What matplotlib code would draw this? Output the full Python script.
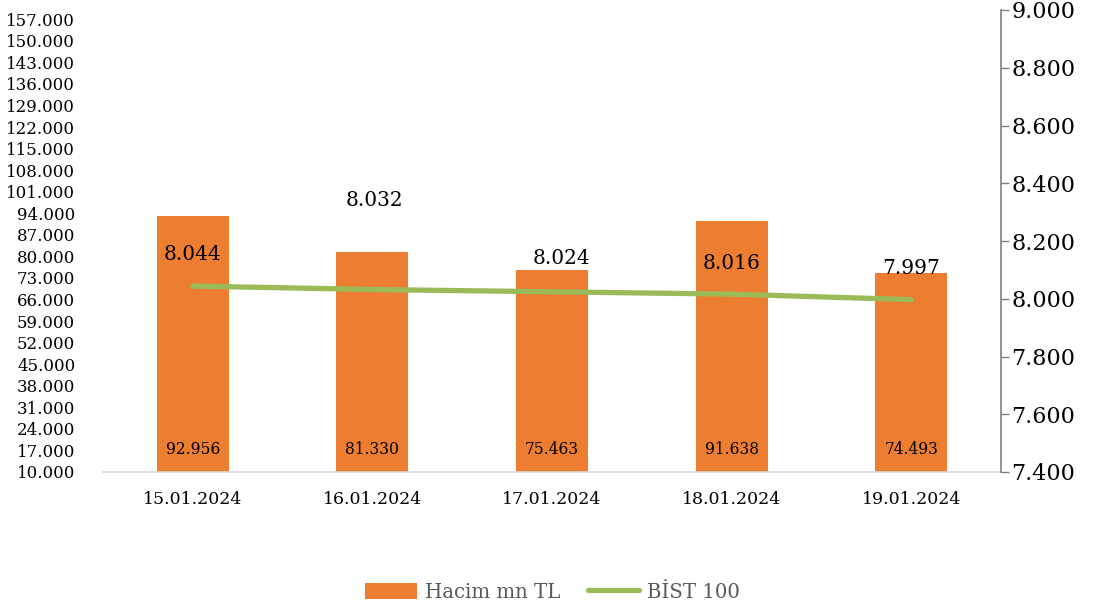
import matplotlib
matplotlib.use("Agg")
import matplotlib.pyplot as plt
import matplotlib.ticker as mticker
import numpy as np

dates = ["15.01.2024", "16.01.2024", "17.01.2024", "18.01.2024", "19.01.2024"]
hacim = [92956, 81330, 75463, 91638, 74493]
bist = [8044, 8032, 8024, 8016, 7997]

left_ticks = np.arange(10000, 157001, 7000)
right_ticks = np.arange(7400, 9001, 200)


def tr(v, dec=0):
    # Turkish style thousands separator
    return f"{v:,.{dec}f}".replace(",", ".")


plt.rcParams['font.family'] = ['DejaVu Serif']

fig = plt.figure(figsize=(10.94, 6.11), dpi=100)
ax = fig.add_axes([103 / 1094, 139 / 611, 898 / 1094, 462 / 611])
ax2 = ax.twinx()

orange = "#ED7D31"
green = "#9BBB59"

x = np.arange(len(dates))
bars = ax.bar(x, hacim, width=0.4, color=orange, label="Hacim mn TL", zorder=2)
ax.set_xlim(-0.5, 4.5)
ax.set_ylim(10000, 160000)
ax.set_yticks(left_ticks)
ax.yaxis.set_major_formatter(mticker.FuncFormatter(lambda v, p: tr(v)))
ax.tick_params(axis='y', length=0, labelsize=12, pad=20)
ax.set_xticks(x)
ax.set_xticklabels(dates)
ax.tick_params(axis='x', length=0, labelsize=12.5, pad=14)
for s in ["top", "left", "right"]:
    ax.spines[s].set_visible(False)
ax.spines["bottom"].set_color("#D9D9D9")
ax.spines["bottom"].set_linewidth(1.2)

for i, v in enumerate(hacim):
    ax.annotate(tr(v), (i, 10000), xytext=(0, 22), textcoords="offset pixels",
                ha="center", va="center", fontsize=11.2, color="black")

ax2.plot(x, bist, color=green, lw=3.8, solid_capstyle="round", label="BİST 100", zorder=3)
ax2.set_ylim(7400, 9000)
ax2.set_yticks(right_ticks)
ax2.yaxis.set_major_formatter(mticker.FuncFormatter(lambda v, p: tr(v)))
ax2.tick_params(axis='y', direction='out', length=6, width=1, color="#808080",
                labelsize=16, pad=1.5)
for s in ["top", "left", "bottom"]:
    ax2.spines[s].set_visible(False)
ax2.spines["right"].set_color("#808080")
ax2.spines["right"].set_linewidth(1.2)

label_offsets = [(0, 32), (2, 89), (9, 33), (0, 31), (0, 31)]
for i, v in enumerate(bist):
    dx, dy = label_offsets[i]
    ax2.annotate(tr(v), (i, v), xytext=(dx, dy), textcoords="offset pixels",
                 ha="center", va="center", fontsize=14.5, color="black")

h1, l1 = ax.get_legend_handles_labels()
h2, l2 = ax2.get_legend_handles_labels()
fig.legend(h1 + h2, l1 + l2, loc="center", bbox_to_anchor=(0.505, 19 / 611), ncol=2,
           frameon=False, fontsize=14.2, labelcolor="#595959", handlelength=2.6,
           handleheight=0.9, columnspacing=1.4, handletextpad=0.4)

fig.savefig("out.png", dpi=100)
